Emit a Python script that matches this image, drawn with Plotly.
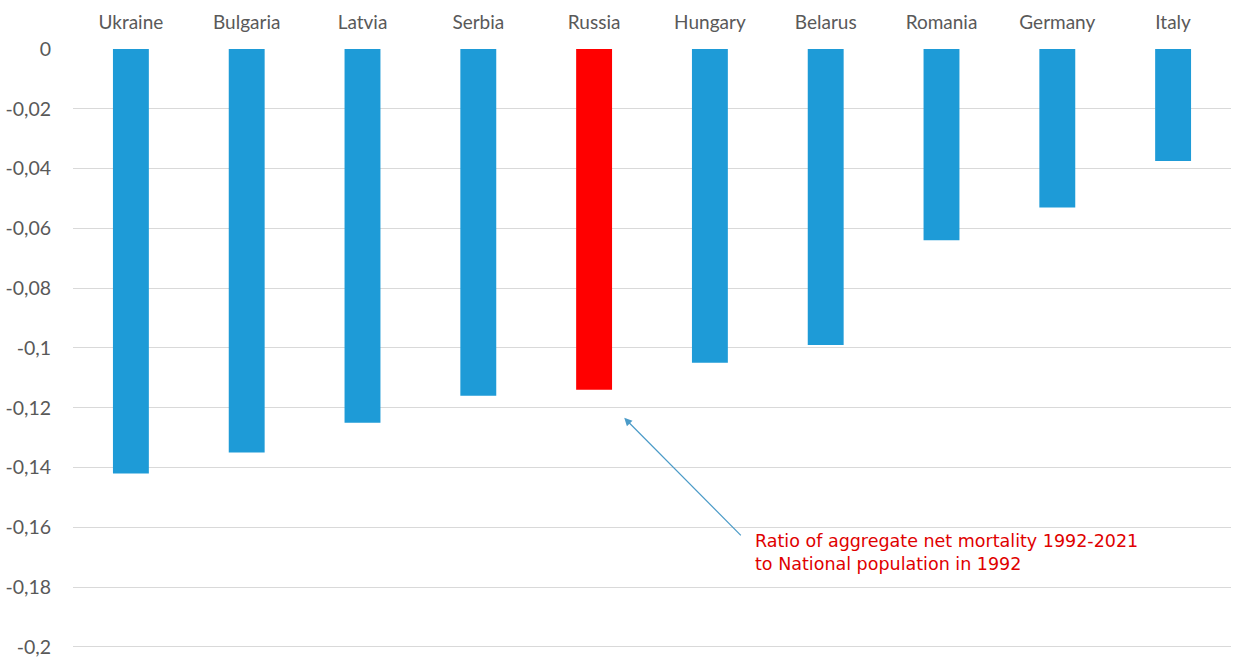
import plotly.graph_objects as go

# Ratio of aggregate net mortality (1992-2021) to national population in 1992
countries = ["Ukraine", "Bulgaria", "Latvia", "Serbia", "Russia",
             "Hungary", "Belarus", "Romania", "Germany", "Italy"]
ratios = [-0.142, -0.135, -0.125, -0.116, -0.114,
          -0.105, -0.099, -0.064, -0.053, -0.0375]
highlight = "Russia"

y_ticks = [0, -0.02, -0.04, -0.06, -0.08, -0.1, -0.12, -0.14, -0.16, -0.18, -0.2]
y_tick_text = ["0", "-0,02", "-0,04", "-0,06", "-0,08", "-0,1",
               "-0,12", "-0,14", "-0,16", "-0,18", "-0,2"]

note_lines = ["Ratio of aggregate net mortality 1992-2021",
              "to National population in 1992"]

BLUE = "#1e9bd7"
RED = "#ff0000"
colors = [RED if c == highlight else BLUE for c in countries]

fig = go.Figure(go.Bar(
    x=countries, y=ratios, marker=dict(color=colors, line=dict(width=0)),
    hoverinfo="x+y",
))

fig.update_layout(
    width=1235, height=657,
    margin=dict(l=73, r=4, t=49, b=6, autoexpand=False),
    paper_bgcolor="white", plot_bgcolor="white",
    bargap=0.69, showlegend=False,
    font=dict(family="Lato, 'Open Sans', sans-serif", size=19, color="#595959"),
    xaxis=dict(side="top", showgrid=False, showline=False, zeroline=False,
               automargin=False,
               ticks="outside", ticklen=11, tickcolor="rgba(0,0,0,0)",
               tickfont=dict(size=19, color="#595959")),
    yaxis=dict(range=[-0.2014, 0], tickvals=y_ticks, ticktext=y_tick_text,
               showgrid=True, gridcolor="#d9d9d9", gridwidth=1,
               zeroline=False, showline=False, ticklabeloverflow="allow",
               automargin=False,
               ticks="outside", ticklen=17, tickcolor="rgba(0,0,0,0)",
               tickfont=dict(size=19.5, color="#595959")),
)

# Arrow pointing at the highlighted bar
fig.add_annotation(
    x=4.26, y=-0.1234, xref="x", yref="y",
    ax=5.28, ay=-0.1632, axref="x", ayref="y",
    showarrow=True, arrowhead=2, arrowsize=1.3, arrowwidth=1.2,
    arrowcolor="#4b9bc8", text="",
)

# Explanatory note
fig.add_annotation(
    x=5.37, y=-0.1684, xref="x", yref="y",
    xanchor="left", yanchor="middle", align="left", showarrow=False,
    text="<br>".join(note_lines),
    font=dict(family="DejaVu Sans, Verdana, sans-serif", size=17.5, color="#e00000"),
)

fig.write_html("out.html")
